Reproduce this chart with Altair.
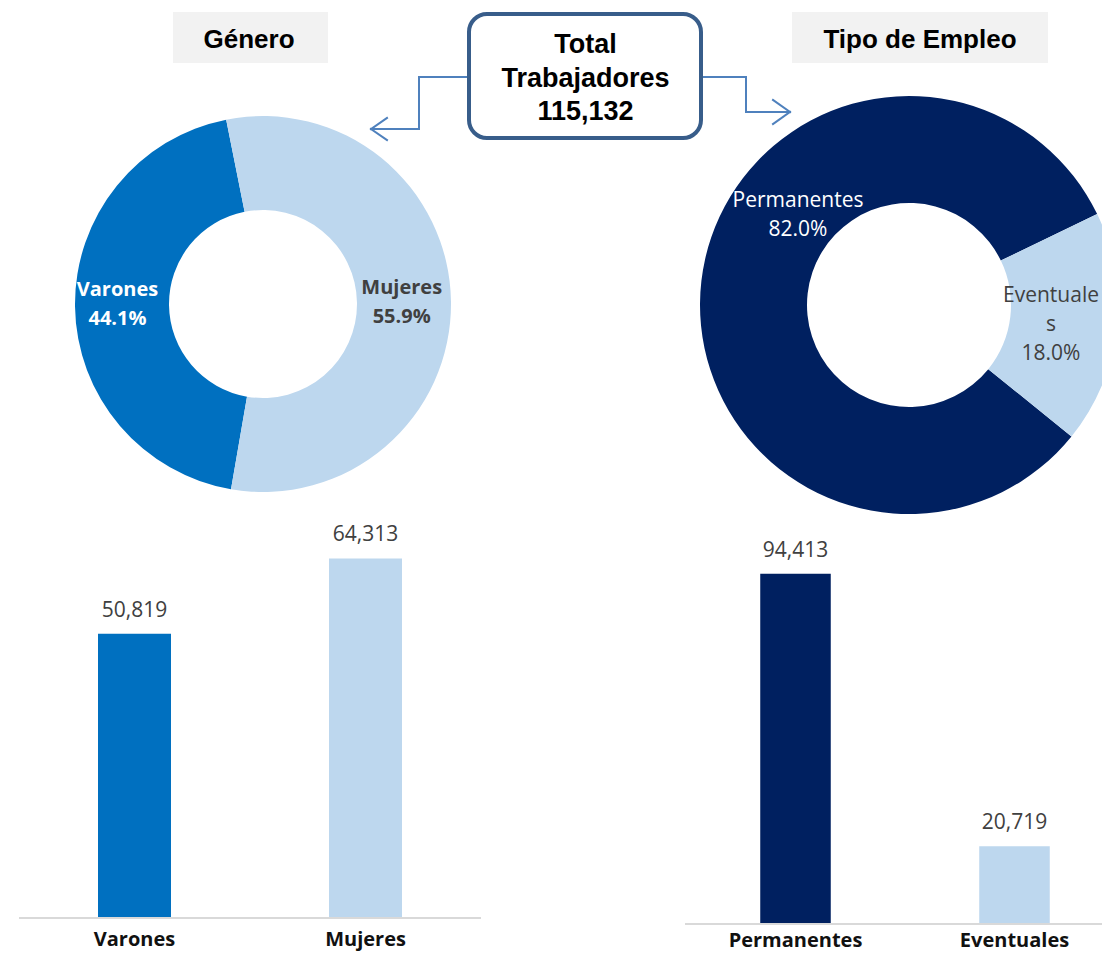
import math
import altair as alt
import pandas as pd

# ---------------- data ----------------
genero_cats = ["Varones", "Mujeres"]
genero_vals = [50819, 64313]
genero_colors = ["#0070C0", "#BDD7EE"]

empleo_cats = ["Permanentes", "Eventuales"]
empleo_vals = [94413, 20719]
empleo_colors = ["#002060", "#BDD7EE"]
empleo_donut_order = [1, 0]  # Eventuales first in the ring

titulo_genero = "Género"
titulo_empleo = "Tipo de Empleo"
titulo_total = "Total\\nTrabajadores\\n"

gen_df = pd.DataFrame({"cat": genero_cats, "value": genero_vals, "orden": [0, 1]})
emp_df = pd.DataFrame({"cat": empleo_cats, "value": empleo_vals, "orden": empleo_donut_order})
one = pd.DataFrame({"k": [0]})

DEG = math.pi / 180
LBL_FONT = "Open Sans"
TTL_FONT = "Liberation Sans"
GRAY = "#404040"


def seg(x1, y1, x2, y2, color="#4F81BD", w=2):
    return alt.Chart(one).mark_rule(color=color, strokeWidth=w, strokeCap="square").encode(
        x=alt.value(x1), y=alt.value(y1), x2=alt.value(x2), y2=alt.value(y2)
    )


def box(x1, y1, x2, y2, **kw):
    return alt.Chart(one).mark_rect(**kw).encode(
        x=alt.value(x1), y=alt.value(y1), x2=alt.value(x2), y2=alt.value(y2)
    )


def title_text(text, x, y):
    return alt.Chart(one).mark_text(
        text=text, font=TTL_FONT, fontSize=26, fontWeight="bold", color="#000000",
        align="center", baseline="alphabetic"
    ).encode(x=alt.value(x), y=alt.value(y))


# ---------------- donuts ----------------
donut1 = alt.Chart(gen_df).mark_arc(outerRadius=188, innerRadius=94).encode(
    x=alt.value(255), y=alt.value(296),
    theta=alt.Theta("value:Q", stack=True,
                    scale=alt.Scale(range=[189.8 * DEG, 549.8 * DEG], nice=False, zero=True)),
    color=alt.Color("cat:N", scale=alt.Scale(domain=genero_cats, range=genero_colors), legend=None),
    order=alt.Order("orden:Q"),
)

donut2 = alt.Chart(emp_df).mark_arc(outerRadius=209, innerRadius=102).encode(
    x=alt.value(901), y=alt.value(297),
    theta=alt.Theta("value:Q", stack=True,
                    scale=alt.Scale(range=[64.2 * DEG, 424.2 * DEG], nice=False, zero=True)),
    color=alt.Color("cat:N", scale=alt.Scale(domain=empleo_cats, range=empleo_colors), legend=None),
    order=alt.Order("orden:Q"),
)


def donut_label(df, cat, x, y, color, weight, size, name_expr="datum.cat"):
    return (
        alt.Chart(df)
        .transform_joinaggregate(total="sum(value)")
        .transform_filter(alt.datum.cat == cat)
        .transform_calculate(label=name_expr + " + '\\n' + format(datum.value / datum.total, '.1%')")
        .mark_text(font=LBL_FONT, fontSize=size, fontWeight=weight, color=color,
                   align="center", baseline="top", lineBreak="\n", lineHeight=29)
        .encode(x=alt.value(x), y=alt.value(y), text="label:N")
    )


lab_var = donut_label(gen_df, "Varones", 109.5, 272, "#FFFFFF", "bold", 20)
lab_muj = donut_label(gen_df, "Mujeres", 393.7, 270, GRAY, "bold", 20)
lab_per = donut_label(emp_df, "Permanentes", 790, 181.5, "#FFFFFF", "normal", 21)
lab_eve = donut_label(emp_df, "Eventuales", 1043, 277, GRAY, "normal", 21,
                      name_expr="slice(datum.cat, 0, 9) + '\\n' + slice(datum.cat, 9)")

# ---------------- bars ----------------
def bar_group(df, cats, colors, xrange, pin, yrange, ymax, rule_x, rule_y, lab_y):
    xe = alt.X("cat:N", scale=alt.Scale(domain=cats, range=xrange, paddingInner=pin,
                                        paddingOuter=pin / 2), axis=None)
    ye = alt.Y("value:Q", scale=alt.Scale(domain=[0, ymax], range=yrange, nice=False, zero=True),
               axis=None)
    base = alt.Chart(df)
    rule = alt.Chart(one).mark_rule(color="#D9D9D9", strokeWidth=2).encode(
        x=alt.value(rule_x[0]), x2=alt.value(rule_x[1]), y=alt.value(rule_y))
    bars = base.mark_bar().encode(
        x=xe, y=ye,
        color=alt.Color("cat:N", scale=alt.Scale(domain=cats, range=colors), legend=None))
    vals = base.mark_text(font=LBL_FONT, fontSize=21, color=GRAY, baseline="alphabetic",
                          dy=-17).encode(x=xe, y=ye, text=alt.Text("value:Q", format=",d"))
    cats_t = base.mark_text(font=LBL_FONT, fontSize=20, fontWeight="bold", color="#111111",
                            baseline="alphabetic").encode(x=xe, y=alt.value(lab_y), text="cat:N")
    return alt.layer(rule, bars, vals, cats_t)


bars_gen = bar_group(gen_df, genero_cats, genero_colors, [11, 473], 0.684,
                     [909, 909 - 70000 * 0.005575], 70000, (11, 473), 910, 938)
bars_emp = bar_group(emp_df, empleo_cats, empleo_colors, [678, 1116], 0.678,
                     [915, 915 - 100000 * 0.0037], 100000, (677, 1094), 916, 939)

# ---------------- titles, box, arrows ----------------
tbox1 = box(165, 4, 320, 55, fill="#F2F2F2")
tbox2 = box(784, 4, 1040, 55, fill="#F2F2F2")
t1 = title_text(titulo_genero, 241, 40)
t2 = title_text(titulo_empleo, 912, 40)

cbox = box(461, 6, 693, 130, fill="#FFFFFF", stroke="#385D8A", strokeWidth=4, cornerRadius=18)
ctext = (
    alt.Chart(gen_df)
    .transform_aggregate(total="sum(value)")
    .transform_calculate(label="'" + titulo_total + "' + format(datum.total, ',d')")
    .mark_text(font=TTL_FONT, fontSize=27, fontWeight="bold", color="#000000", align="center",
               baseline="top", lineBreak="\n", lineHeight=33.5)
    .encode(x=alt.value(577.5), y=alt.value(24), text="label:N")
)

arrows = [
    seg(459, 69, 411, 69), seg(411, 69, 411, 121), seg(411, 121, 363, 121),
    seg(363, 121, 379, 110), seg(363, 121, 379, 132),
    seg(695, 69, 738, 69), seg(738, 69, 738, 104), seg(738, 104, 782, 104),
    seg(782, 104, 765, 92), seg(782, 104, 765, 116),
]

chart = (
    alt.layer(
        tbox1, tbox2, t1, t2,
        donut1, donut2, lab_var, lab_muj, lab_per, lab_eve,
        bars_gen, bars_emp,
        *arrows, cbox, ctext,
    )
    .resolve_scale(x="independent", y="independent", theta="independent", color="independent")
    .properties(width=1094, height=946, autosize=alt.AutoSizeParams(type="none"), padding=0,
                background="#FFFFFF")
    .configure_view(stroke="transparent")
)

chart.save("out.html", embed_options={"renderer": "svg", "actions": False})
